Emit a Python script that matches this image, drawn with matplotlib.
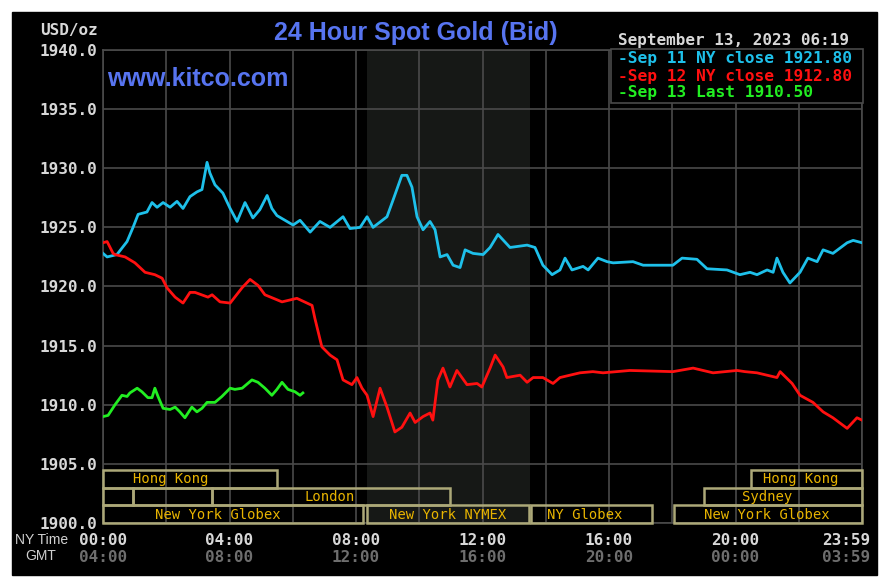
import matplotlib
matplotlib.use('Agg')
import matplotlib.pyplot as plt
import matplotlib.patches as patches

# hours after midnight NY time, bid price in USD/oz
sep11_hours = [0, 0.13, 0.44, 0.76, 0.95, 1.11, 1.39, 1.55, 1.71, 1.9, 2.12, 2.34, 2.53, 2.75,
               2.97, 3.13, 3.29, 3.38, 3.54, 3.79, 4.02, 4.24, 4.49, 4.74, 4.96, 5.19, 5.34,
               5.5, 5.69, 6.01, 6.23, 6.55, 6.86, 7.18, 7.59, 7.81, 8.13, 8.35, 8.54, 8.98,
               9.17, 9.45, 9.61, 9.77, 9.93, 10.12, 10.34, 10.5, 10.66, 10.88, 11.07, 11.29,
               11.45, 11.7, 12.02, 12.24, 12.49, 12.87, 13.41, 13.66, 13.91, 14.2, 14.45,
               14.61, 14.83, 15.18, 15.34, 15.65, 15.94, 16.13, 16.76, 17.08, 18.02, 18.31,
               18.78, 19.1, 19.73, 20.14, 20.46, 20.68, 21.0, 21.19, 21.31, 21.5, 21.72,
               22.04, 22.29, 22.58, 22.77, 23.08, 23.53, 23.72, 24.0]
sep11_price = [1922.8, 1922.5, 1922.7, 1923.8, 1925.0, 1926.1, 1926.3, 1927.1, 1926.7, 1927.1,
               1926.7, 1927.2, 1926.6, 1927.6, 1928.0, 1928.2, 1930.5, 1929.6, 1928.6, 1927.9,
               1926.6, 1925.5, 1927.1, 1925.8, 1926.5, 1927.7, 1926.6, 1926.0, 1925.7, 1925.2,
               1925.6, 1924.6, 1925.5, 1925.0, 1925.9, 1924.9, 1925.0, 1925.9, 1925.0, 1925.9,
               1927.3, 1929.4, 1929.4, 1928.4, 1925.9, 1924.8, 1925.5, 1924.8, 1922.5, 1922.7,
               1921.8, 1921.6, 1923.1, 1922.8, 1922.7, 1923.3, 1924.4, 1923.3, 1923.5, 1923.3,
               1921.8, 1921.0, 1921.4, 1922.4, 1921.4, 1921.7, 1921.4, 1922.4, 1922.1, 1922.0,
               1922.1, 1921.8, 1921.8, 1922.4, 1922.3, 1921.5, 1921.4, 1921.0, 1921.2, 1921.0,
               1921.4, 1921.2, 1922.4, 1921.2, 1920.3, 1921.2, 1922.4, 1922.1, 1923.1, 1922.8,
               1923.7, 1923.9, 1923.7]

sep12_hours = [0, 0.13, 0.32, 0.38, 0.7, 1.01, 1.33, 1.64, 1.87, 2.02, 2.28, 2.53, 2.75, 2.91,
               3.32, 3.45, 3.7, 4.02, 4.4, 4.65, 4.9, 5.12, 5.66, 6.13, 6.61, 6.7, 6.92, 7.18,
               7.4, 7.59, 7.87, 8.03, 8.19, 8.35, 8.54, 8.76, 8.98, 9.23, 9.45, 9.71, 9.87,
               10.12, 10.34, 10.43, 10.59, 10.75, 10.97, 11.19, 11.51, 11.83, 11.98, 12.24,
               12.4, 12.65, 12.77, 13.19, 13.41, 13.6, 13.91, 14.23, 14.45, 15.08, 15.49,
               15.81, 16.66, 18.02, 18.66, 19.29, 20.05, 20.3, 20.68, 21.31, 21.41, 21.79,
               22.04, 22.45, 22.77, 23.08, 23.53, 23.84, 24.0]
sep12_price = [1923.7, 1923.8, 1922.8, 1922.7, 1922.5, 1922.0, 1921.2, 1921.0, 1920.7, 1919.9,
               1919.1, 1918.6, 1919.5, 1919.5, 1919.1, 1919.3, 1918.7, 1918.6, 1919.9, 1920.6,
               1920.1, 1919.3, 1918.7, 1919.0, 1918.4, 1917.3, 1914.9, 1914.2, 1913.8, 1912.1,
               1911.7, 1912.3, 1911.4, 1910.8, 1909.0, 1911.4, 1909.8, 1907.7, 1908.1, 1909.3,
               1908.5, 1909.0, 1909.3, 1908.7, 1912.1, 1913.1, 1911.5, 1912.9, 1911.7, 1911.8,
               1911.5, 1913.1, 1914.2, 1913.2, 1912.3, 1912.5, 1911.9, 1912.3, 1912.3, 1911.8,
               1912.3, 1912.7, 1912.8, 1912.7, 1912.9, 1912.8, 1913.1, 1912.7, 1912.9, 1912.8,
               1912.7, 1912.3, 1912.8, 1911.8, 1910.8, 1910.2, 1909.4, 1908.9, 1908.0, 1908.9,
               1908.7]

sep13_hours = [0, 0.16, 0.38, 0.6, 0.76, 0.85, 1.08, 1.23, 1.42, 1.55, 1.64, 1.74, 1.9, 2.12,
               2.28, 2.43, 2.59, 2.81, 2.97, 3.13, 3.29, 3.54, 3.76, 4.02, 4.17, 4.4, 4.71,
               4.9, 5.12, 5.34, 5.5, 5.66, 5.85, 6.07, 6.23, 6.32]
sep13_price = [1909.0, 1909.1, 1910.0, 1910.8, 1910.7, 1911.0, 1911.4, 1911.1, 1910.6, 1910.6,
               1911.4, 1910.7, 1909.7, 1909.6, 1909.8, 1909.4, 1908.9, 1909.8, 1909.4, 1909.7,
               1910.2, 1910.2, 1910.7, 1911.4, 1911.3, 1911.4, 1912.1, 1911.9, 1911.4, 1910.8,
               1911.3, 1911.9, 1911.3, 1911.1, 1910.8, 1911.0]

legend_labels = ['-Sep 11 NY close 1921.80', '-Sep 12 NY close 1912.80', '-Sep 13 Last 1910.50']
ny_labels = ['00:00', '04:00', '08:00', '12:00', '16:00', '20:00', '23:59']
gmt_labels = ['04:00', '08:00', '12:00', '16:00', '20:00', '00:00', '03:59']
label_hours = [0, 4, 8, 12, 16, 20, 24]

# market sessions: name, row (0 = top), start hour, end hour, label hour
sessions = [
    ('Hong Kong', 0, 0, 5.5, 2.15),
    ('Hong Kong', 0, 20.5, 24, 22.07),
    ('', 1, 0, 0.95, 0),
    ('', 1, 0.95, 3.45, 0),
    ('London', 1, 3.45, 10.97, 7.18),
    ('Sydney', 1, 19.0, 24, 21.0),
    ('New York Globex', 2, 0, 8.22, 3.64),
    ('New York NYMEX', 2, 8.35, 13.47, 10.91),
    ('NY Globex', 2, 13.53, 17.36, 15.24),
    ('New York Globex', 2, 18.06, 24, 21.0),
]
nymex_floor = (8 + 20 / 60, 13.5)

MONO = 'DejaVu Sans Mono'
SANS = 'Liberation Sans'
BLUE = '#5774f0'
GRID = '#4a4a4a'

W, H = 892, 588
fig = plt.figure(figsize=(W / 100, H / 100), dpi=100, facecolor='white')
fig.patches.append(patches.Rectangle((12 / W, 13 / H), 865 / W, 563 / H,
                                     transform=fig.transFigure, color='black', zorder=-5))

ax = fig.add_axes([103 / W, 65 / H, 759 / W, 473 / H])
ax.set_facecolor('black')
ax.set_xlim(0, 24)
ax.set_ylim(1900, 1940)
for s in ax.spines.values():
    s.set_color(GRID)
    s.set_linewidth(1.2)

ax.set_xticks(range(0, 25, 2))
ax.set_xticklabels([])
ax.set_yticks(range(1900, 1941, 5))
ax.set_yticklabels(['%.1f' % v for v in range(1900, 1941, 5)])
ax.tick_params(length=0, pad=4)
for t in ax.get_yticklabels():
    t.set_color('#d8d8d8')
    t.set_fontfamily(MONO)
    t.set_fontweight('bold')
    t.set_fontsize(11.5)
ax.grid(True, color=GRID, linewidth=1.2)
ax.set_axisbelow(True)

ax.axvspan(nymex_floor[0], nymex_floor[1], color='#161816', zorder=0.5, lw=0)

ax.plot(sep11_hours, sep11_price, color='#1ec0ea', lw=2, zorder=3)
ax.plot(sep12_hours, sep12_price, color='#ff1010', lw=2, zorder=3)
ax.plot(sep13_hours, sep13_price, color='#22ee22', lw=2, zorder=3)

row_h = 1.5
for name, row, x0, x1, lx in sessions:
    y0 = 1900 + (2 - row) * row_h
    ax.add_patch(patches.Rectangle((x0, y0), x1 - x0, row_h, fill=False,
                                   edgecolor='#aca878', lw=1.8, zorder=4, clip_on=False))
    if name:
        ax.text(lx, y0 + row_h / 2 - 0.05, name, color='#e8b400', fontsize=10,
                family=MONO, ha='center', va='center', zorder=5)

# x labels
tr = ax.get_xaxis_transform()
for h, a, b in zip(label_hours, ny_labels, gmt_labels):
    ha = 'center'
    hx = h
    if h == 24:
        hx = 24.25
        ha = 'right'
    ax.text(hx, -0.036, a, transform=tr, ha=ha, va='center', color='#d8d8d8',
            family=MONO, fontweight='bold', fontsize=11.5, clip_on=False)
    ax.text(hx, -0.072, b, transform=tr, ha=ha, va='center', color='#6e6e6e',
            family=MONO, fontweight='bold', fontsize=11.5, clip_on=False)
fig.text(15 / W, 1 - 540 / H, 'NY Time', color='#d0d0d0', fontsize=10, family=SANS,
         ha='left', va='center')
fig.text(25 / W, 1 - 556 / H, 'GMT', color='#d0d0d0', fontsize=10, family=SANS,
         ha='left', va='center')

# titles
fig.text(40 / W, 1 - 30 / H, 'USD/oz', color='#d8d8d8', family=MONO, fontweight='bold',
         fontsize=11.5, ha='left', va='center')
fig.text(416 / W, 1 - 33 / H, '24 Hour Spot Gold (Bid)', color=BLUE, family=SANS,
         fontweight='bold', fontsize=18, ha='center', va='center')
fig.text(107 / W, 1 - 79 / H, 'www.kitco.com', color=BLUE, family=SANS, fontweight='bold',
         fontsize=18, ha='left', va='center', zorder=5)
fig.text(618 / W, 1 - 40 / H, 'September 13, 2023 06:19', color='#d8d8d8', family=MONO,
         fontweight='bold', fontsize=11.5, ha='left', va='center')

# legend box
fig.patches.append(patches.Rectangle((611 / W, 1 - 103 / H), 252 / W, 54 / H,
                                     transform=fig.transFigure, facecolor='black',
                                     edgecolor=GRID, lw=1.2, zorder=6))
for i, (lab, col) in enumerate(zip(legend_labels, ['#1ec0ea', '#ff1010', '#22ee22'])):
    fig.text(618 / W, 1 - (59 + 17 * i) / H, lab, color=col, family=MONO, fontweight='bold',
             fontsize=11.7, ha='left', va='center', zorder=7)

fig.savefig('out.png', dpi=100, facecolor='white')
